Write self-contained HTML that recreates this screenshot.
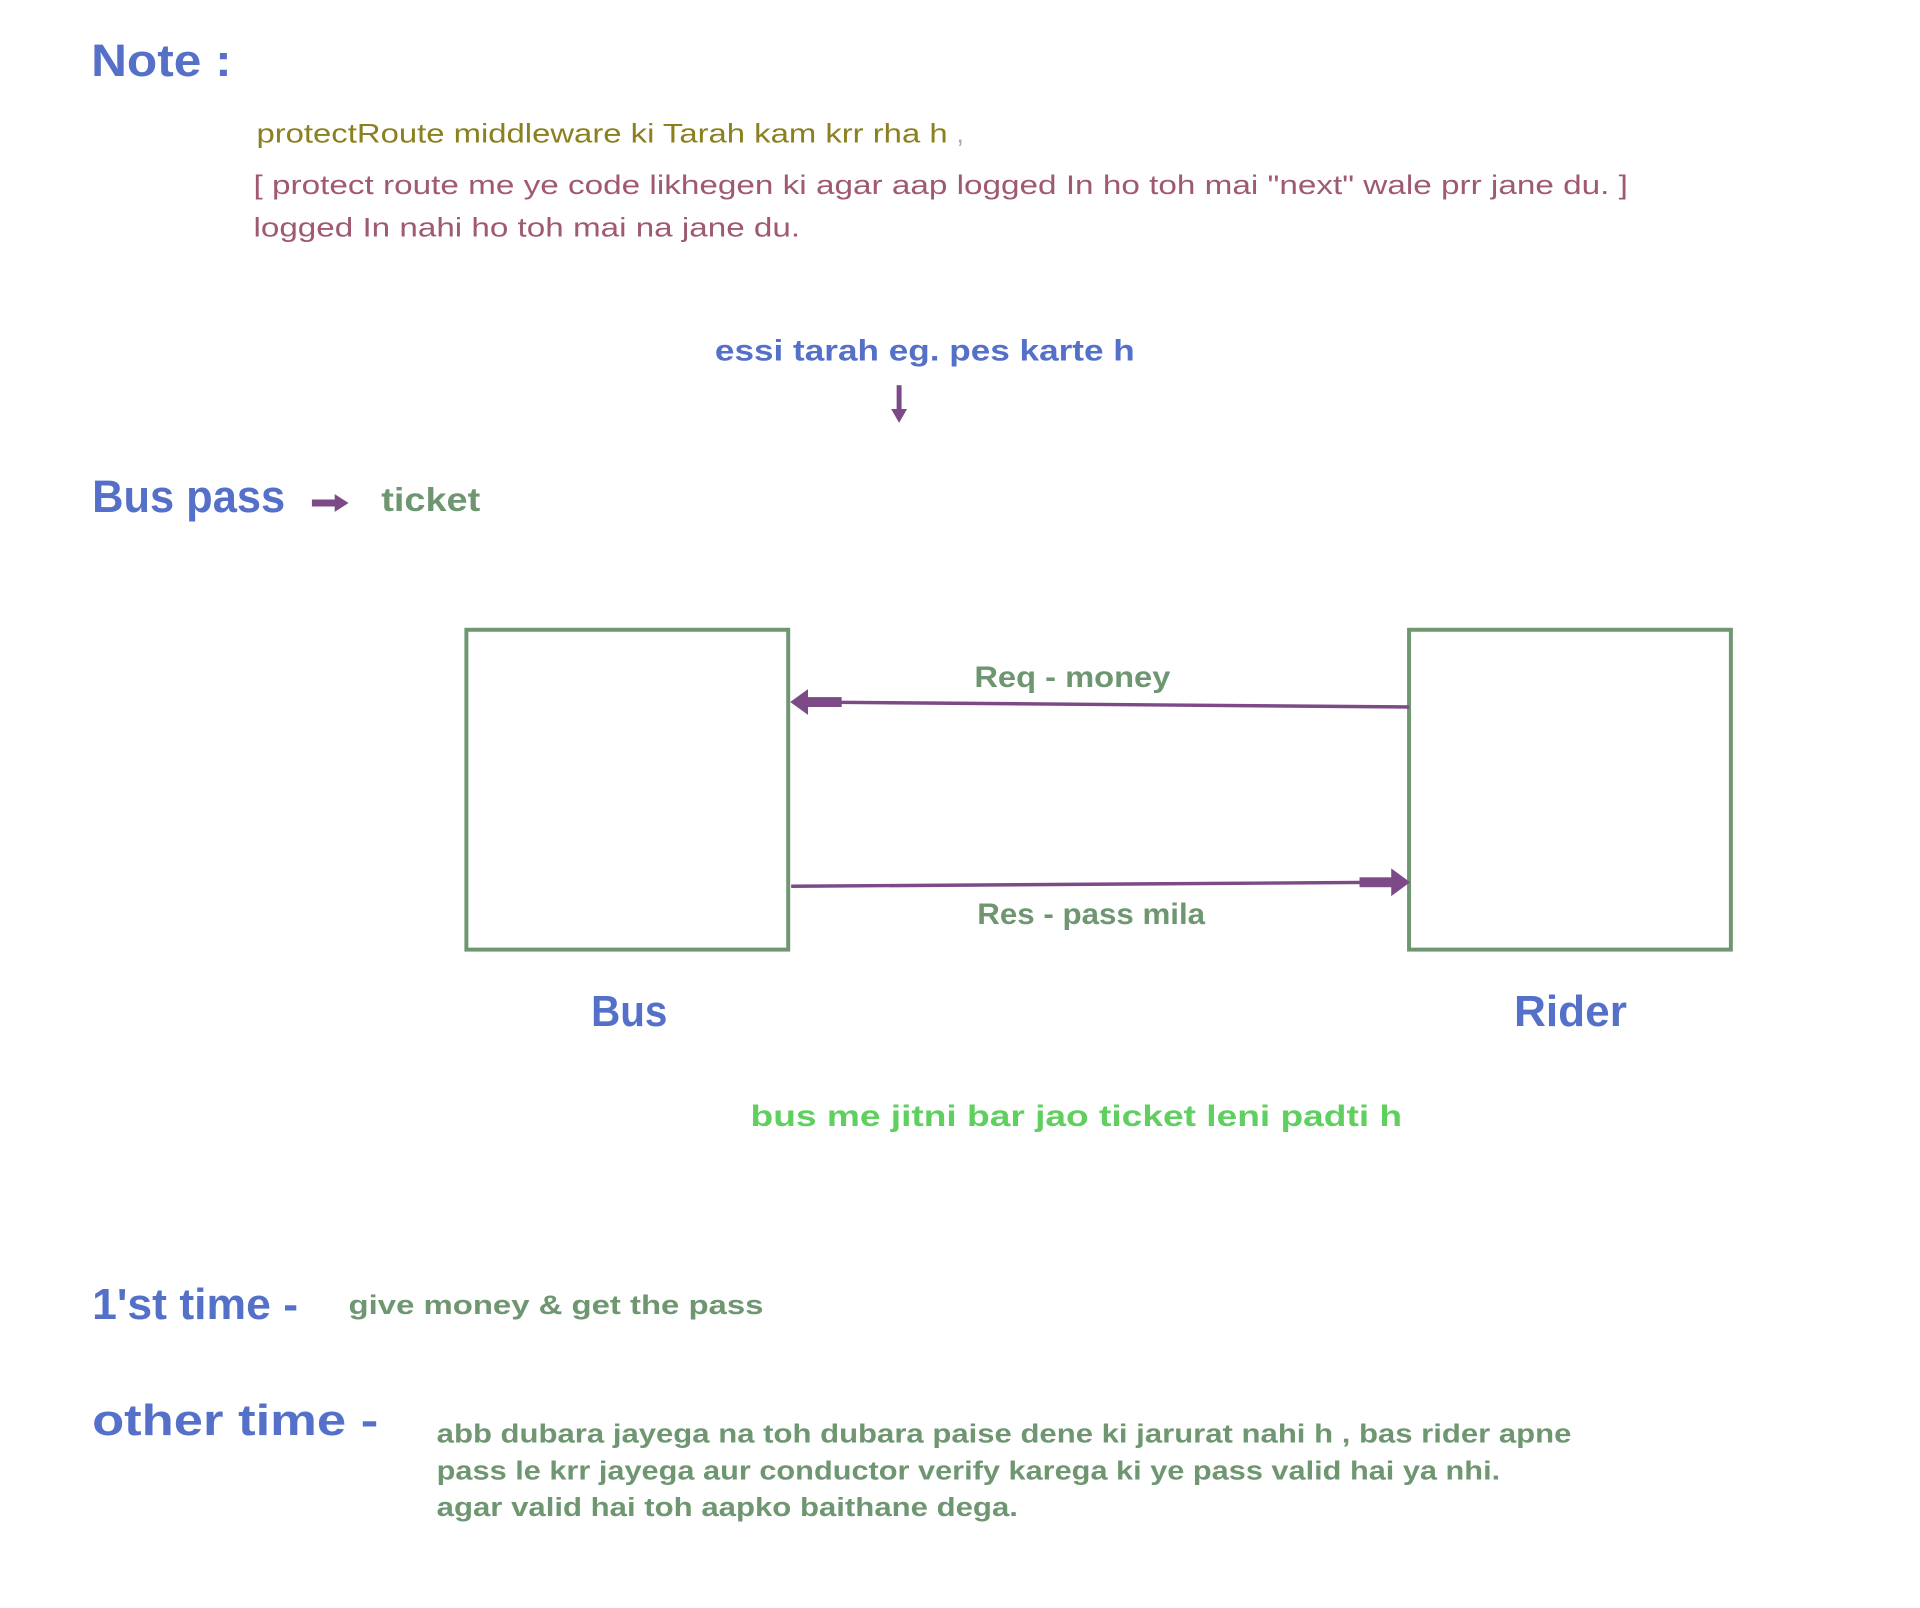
<!DOCTYPE html>
<html><head><meta charset="utf-8"><style>html,body{margin:0;padding:0;background:#fff}svg{display:block}</style></head>
<body>
<svg width="1920" height="1608" viewBox="0 0 1920 1608" xmlns="http://www.w3.org/2000/svg" font-family="Liberation Sans, sans-serif">
<rect width="1920" height="1608" fill="#fff"/>
<g transform="scale(0.9902)">
<text x="92" y="77" font-size="46" font-weight="bold" fill="#5470c8" textLength="142" lengthAdjust="spacingAndGlyphs">Note :</text>
<text x="259" y="144" font-size="27" fill="#8b8020" textLength="698" lengthAdjust="spacingAndGlyphs">protectRoute middleware ki Tarah kam krr rha h</text>
<text x="966" y="144" font-size="27" fill="#aaa">,</text>
<text x="256" y="196" font-size="27" fill="#a05a70" textLength="1388" lengthAdjust="spacingAndGlyphs">[ protect route me ye code likhegen ki agar aap logged In ho toh mai "next" wale prr jane du. ]</text>
<text x="256" y="239" font-size="27" fill="#a05a70" textLength="552" lengthAdjust="spacingAndGlyphs">logged In nahi ho toh mai na jane du.</text>
<text x="722" y="364" font-size="30" font-weight="bold" fill="#5470c8" textLength="424" lengthAdjust="spacingAndGlyphs">essi tarah eg. pes karte h</text>
<line x1="908" y1="389" x2="908" y2="416" stroke="#7c4a86" stroke-width="5"/>
<polygon points="900,413 916,413 908,427" fill="#7c4a86"/>
<text x="93" y="517" font-size="46" font-weight="bold" fill="#5470c8" textLength="195" lengthAdjust="spacingAndGlyphs">Bus pass</text>
<line x1="315" y1="508" x2="340" y2="508" stroke="#7c4a86" stroke-width="7"/>
<polygon points="338,499 352,508 338,517" fill="#7c4a86"/>
<text x="385" y="516" font-size="34" font-weight="bold" fill="#6e9670" textLength="100" lengthAdjust="spacingAndGlyphs">ticket</text>
<rect x="471" y="636" width="325" height="323" fill="none" stroke="#6e9670" stroke-width="4"/>
<rect x="1423" y="636" width="325" height="323" fill="none" stroke="#6e9670" stroke-width="4"/>
<line x1="1423" y1="714" x2="815" y2="709" stroke="#7c4a86" stroke-width="3.5"/>
<rect x="815" y="704" width="35" height="10" fill="#7c4a86"/>
<polygon points="816,696 798,709 816,722" fill="#7c4a86"/>
<line x1="799" y1="895" x2="1405" y2="891" stroke="#7c4a86" stroke-width="3.5"/>
<rect x="1373" y="886" width="35" height="10" fill="#7c4a86"/>
<polygon points="1405,877 1424,891 1405,905" fill="#7c4a86"/>
<text x="984" y="694" font-size="30" font-weight="bold" fill="#6e9670" textLength="198" lengthAdjust="spacingAndGlyphs">Req - money</text>
<text x="987" y="933" font-size="30" font-weight="bold" fill="#6e9670" textLength="230" lengthAdjust="spacingAndGlyphs">Res - pass mila</text>
<text x="597" y="1036" font-size="44" font-weight="bold" fill="#5470c8" textLength="77" lengthAdjust="spacingAndGlyphs">Bus</text>
<text x="1529" y="1036" font-size="44" font-weight="bold" fill="#5470c8" textLength="114" lengthAdjust="spacingAndGlyphs">Rider</text>
<text x="758" y="1137" font-size="30" font-weight="bold" fill="#5fcf5f" textLength="658" lengthAdjust="spacingAndGlyphs">bus me jitni bar jao ticket leni padti h</text>
<text x="93" y="1332" font-size="44" font-weight="bold" fill="#5470c8" textLength="208" lengthAdjust="spacingAndGlyphs">1'st time -</text>
<text x="352" y="1327" font-size="27" font-weight="bold" fill="#6e9670" textLength="419" lengthAdjust="spacingAndGlyphs">give money &amp; get the pass</text>
<text x="93" y="1449" font-size="44" font-weight="bold" fill="#5470c8" textLength="289" lengthAdjust="spacingAndGlyphs">other time -</text>
<text x="441" y="1457" font-size="26" font-weight="bold" fill="#6e9670" textLength="1146" lengthAdjust="spacingAndGlyphs">abb dubara jayega na toh dubara paise dene ki jarurat nahi h , bas rider apne</text>
<text x="441" y="1494" font-size="26" font-weight="bold" fill="#6e9670" textLength="1074" lengthAdjust="spacingAndGlyphs">pass le krr jayega aur conductor verify karega ki ye pass valid hai ya nhi.</text>
<text x="441" y="1531" font-size="26" font-weight="bold" fill="#6e9670" textLength="587" lengthAdjust="spacingAndGlyphs">agar valid hai toh aapko baithane dega.</text>
</g>
</svg>
</body></html>
